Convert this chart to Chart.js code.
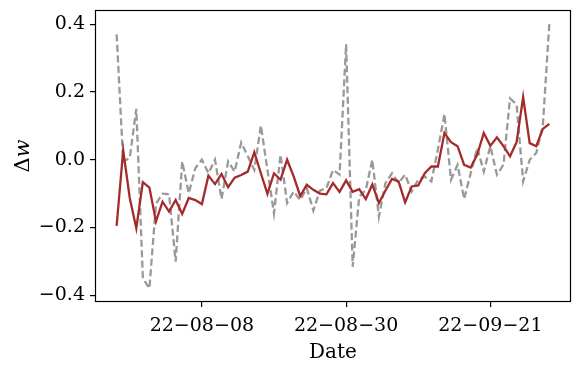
<!DOCTYPE html>
<html>
<head>
<meta charset="utf-8">
<script src="https://cdn.jsdelivr.net/npm/chart.js@4.4.0/dist/chart.umd.min.js"></script>
<style>
    html, body { margin: 0; padding: 0; background: #fff; }
    #wrap { width: 581px; height: 371px; }
</style>
</head>
<body>
<div id="wrap"><canvas id="chart" width="581" height="371"></canvas></div>
<script>
// daily series, first day 2022-07-26
const startDate = '2022-07-26';
const tickDates = ['2022-08-08', '2022-08-30', '2022-09-21'];
const yTicks = [-0.4, -0.2, 0.0, 0.2, 0.4];

const smoothValues = [
    -0.195, 0.028, -0.113, -0.202, -0.066, -0.082, -0.182, -0.124, -0.153, -0.119,
    -0.160, -0.113, -0.119, -0.131, -0.047, -0.072, -0.042, -0.081, -0.053, -0.045,
    -0.035, 0.022, -0.040, -0.101, -0.040, -0.059, 0.000, -0.049, -0.107, -0.074,
    -0.089, -0.100, -0.102, -0.069, -0.095, -0.061, -0.095, -0.087, -0.116, -0.073,
    -0.128, -0.091, -0.057, -0.064, -0.126, -0.079, -0.076, -0.040, -0.020, -0.020,
    0.079, 0.052, 0.040, -0.015, -0.023, 0.015, 0.079, 0.041, 0.066, 0.040,
    0.010, 0.052, 0.185, 0.049, 0.040, 0.091, 0.106,
];

const rawValues = [
    0.370, -0.005, 0.005, 0.150, -0.350, -0.380, -0.130, -0.100, -0.102, -0.301,
    -0.005, -0.099, -0.025, 0.000, -0.040, 0.000, -0.116, -0.005, -0.035, 0.051,
    0.010, -0.030, 0.101, -0.030, -0.158, 0.015, -0.128, -0.094, -0.119, -0.084,
    -0.150, -0.091, -0.084, -0.030, -0.044, 0.341, -0.316, -0.109, -0.089, 0.000,
    -0.168, -0.069, -0.040, -0.069, -0.044, -0.094, -0.059, -0.050, -0.064, 0.030,
    0.135, -0.059, -0.015, -0.116, -0.040, 0.035, -0.035, 0.040, -0.044, -0.015,
    0.181, 0.163, -0.064, 0.000, 0.020, 0.099, 0.403,
];

const SERIF = '"DejaVu Serif", "Liberation Serif", serif';

function buildDates(start, n) {
    const out = [];
    const d = new Date(start + 'T00:00:00Z');
    for (let i = 0; i < n; i++) {
        out.push(d.toISOString().slice(0, 10));
        d.setUTCDate(d.getUTCDate() + 1);
    }
    return out;
}

const dates = buildDates(startDate, smoothValues.length);
const toPoints = (values) => values.map((v, i) => ({ x: i, y: v }));
const minus = (s) => s.replace(/-/g, '\u2212');

const framePlugin = {
    id: 'frame',
    afterDraw(chart) {
        const { ctx, chartArea: a } = chart;
        ctx.save();
        ctx.strokeStyle = '#000';
        ctx.lineWidth = 1.2;
        ctx.strokeRect(Math.round(a.left) + 0.5, Math.round(a.top) + 0.5,
            Math.round(a.right - a.left) - 1, Math.round(a.bottom - a.top) - 1);

        // x title
        ctx.fillStyle = '#000';
        ctx.font = '20px ' + SERIF;
        ctx.textAlign = 'center';
        ctx.textBaseline = 'alphabetic';
        ctx.fillText('Date', (a.left + a.right) / 2, 358);

        // y title: upright Delta, italic w
        ctx.translate(22, (a.top + a.bottom) / 2);
        ctx.rotate(-Math.PI / 2);
        ctx.textAlign = 'left';
        const upright = '21px ' + SERIF;
        const italic = 'italic 21px ' + SERIF;
        ctx.font = upright;
        const w1 = ctx.measureText('\u0394').width;
        ctx.font = italic;
        const w2 = ctx.measureText('w').width;
        const x0 = -(w1 + w2) / 2;
        ctx.font = upright;
        ctx.fillText('\u0394', x0, 7);
        ctx.font = italic;
        ctx.fillText('w', x0 + w1, 7);
        ctx.restore();
    },
};

new Chart(document.getElementById('chart'), {
    type: 'line',
    data: {
        datasets: [
            {
                label: 'smoothed',
                data: toPoints(smoothValues),
                borderColor: '#a52a2a',
                borderWidth: 2.3,
                pointRadius: 0,
                tension: 0,
                order: 0,
            },
            {
                label: 'raw',
                data: toPoints(rawValues),
                borderColor: '#999999',
                borderWidth: 2.3,
                borderDash: [7, 3.5],
                pointRadius: 0,
                tension: 0,
                order: 1,
            },
        ],
    },
    options: {
        responsive: false,
        animation: false,
        devicePixelRatio: 1,
        layout: { padding: { top: 10, right: 10, left: 0, bottom: 0 } },
        plugins: { legend: { display: false }, tooltip: { enabled: false } },
        scales: {
            x: {
                type: 'linear',
                min: -3.3,
                max: 69.3,
                afterFit: (s) => { s.height = 69; s.paddingLeft = 0; s.paddingRight = 0; },
                afterBuildTicks: (s) => {
                    s.ticks = tickDates.map((d) => ({ value: dates.indexOf(d) }));
                },
                ticks: {
                    autoSkip: false,
                    maxRotation: 0,
                    padding: 8,
                    color: '#000',
                    font: { family: SERIF, size: 19 },
                    callback: (v) => minus(dates[v].slice(2)),
                },
                grid: { drawOnChartArea: false, drawTicks: true, tickLength: 5, color: '#000', lineWidth: 1.2 },
                border: { display: false },
            },
            y: {
                min: -0.42,
                max: 0.442,
                afterFit: (s) => { s.width = 95; s.paddingTop = 0; s.paddingBottom = 0; },
                afterBuildTicks: (s) => {
                    s.ticks = yTicks.map((v) => ({ value: v }));
                },
                ticks: {
                    padding: 5,
                    color: '#000',
                    font: { family: SERIF, size: 19 },
                    callback: (v) => minus(v.toFixed(1)),
                },
                grid: { drawOnChartArea: false, drawTicks: true, tickLength: 5, color: '#000', lineWidth: 1.2 },
                border: { display: false },
            },
        },
    },
    plugins: [framePlugin],
});
</script>
</body>
</html>
